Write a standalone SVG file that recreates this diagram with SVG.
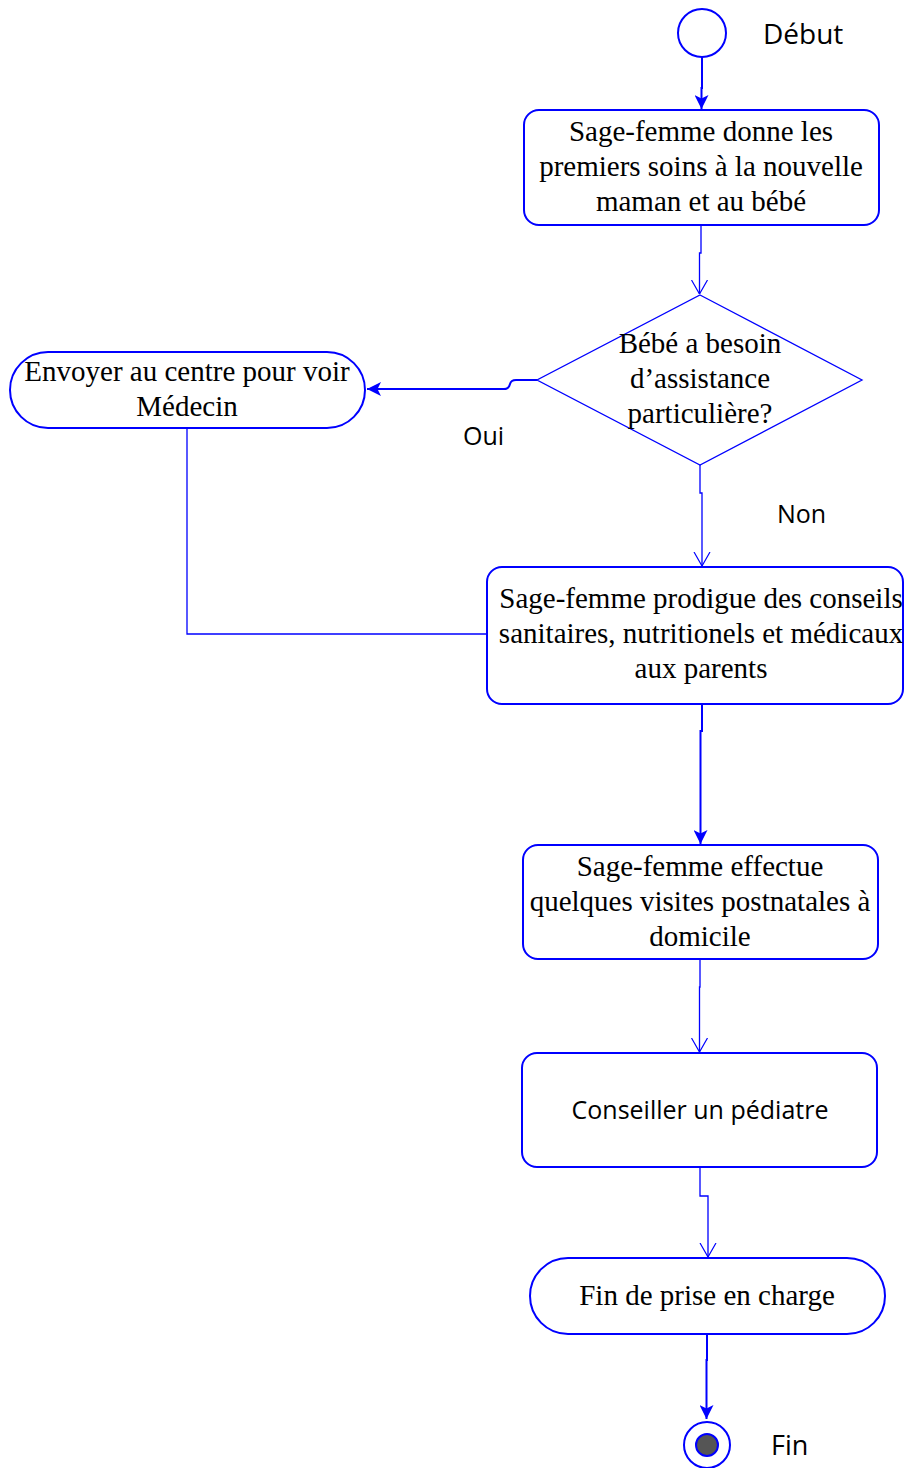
<svg xmlns="http://www.w3.org/2000/svg" width="905" height="1468" viewBox="0 0 905 1468">
<style>
.box{fill:#fff;stroke:#0000ff;stroke-width:2}
.dia{fill:#fff;stroke:#0000ff;stroke-width:1.3}
.t{font-family:"Liberation Serif","Times New Roman",serif;font-size:29px;fill:#000;text-anchor:middle}
.s{font-family:"Open Sans","Liberation Sans",sans-serif;font-size:25px;fill:#000}
.c{fill:none;stroke:#0000ff;stroke-width:1.3}
.cb{fill:none;stroke:#0000ff;stroke-width:2}
</style>
<defs>
<marker id="fill" viewBox="0 0 14 14" refX="14" refY="7" markerWidth="14" markerHeight="14" markerUnits="userSpaceOnUse" orient="auto">
<path d="M0,0 L14,7 L0,14 L3.5,7 Z" fill="#0000ff"/>
</marker>
<marker id="open" viewBox="0 0 14 18" refX="14" refY="9" markerWidth="14" markerHeight="18" markerUnits="userSpaceOnUse" orient="auto">
<path d="M0,1 L14,9 L0,17" fill="none" stroke="#0000ff" stroke-width="1.2"/>
</marker>
</defs>
<rect width="905" height="1468" fill="#fff"/>
<g id="connectors">
<path class="cb" d="M702,57 V88 H701.5 V109" marker-end="url(#fill)"/>
<path class="c" d="M701,225 V253 H699.5 V294" marker-end="url(#open)"/>
<path class="cb" d="M537,380 H516 Q511,380 510,384 Q509,389 504,389 H367" marker-end="url(#fill)"/>
<path class="c" d="M187,428 V634 H487"/>
<path class="c" d="M700,465 V493 H702 V566" marker-end="url(#open)"/>
<path class="cb" d="M702,704 V731 H700.5 V844" marker-end="url(#fill)"/>
<path class="c" d="M700,959 V987 H699.5 V1052" marker-end="url(#open)"/>
<path class="c" d="M700,1167 V1196 H708 V1257" marker-end="url(#open)"/>
<path class="cb" d="M707,1334 V1360 H706.5 V1419" marker-end="url(#fill)"/>
</g>
<g id="start">
<circle cx="702" cy="33" r="24" fill="#fff" stroke="#0000ff" stroke-width="2"/>
<text class="s" x="763" y="44" style="font-size:28px">Début</text>
</g>
<g id="n1">
<rect class="box" x="524" y="110" width="355" height="115" rx="15"/>
<text class="t" x="701" y="141">Sage-femme donne les</text>
<text class="t" x="701" y="176">premiers soins à la nouvelle</text>
<text class="t" x="701" y="211">maman et au bébé</text>
</g>
<g id="decision">
<path class="dia" d="M700,295 L862,380 L700,465 L537,380 Z"/>
<text class="t" x="700" y="353">Bébé a besoin</text>
<text class="t" x="700" y="388">d’assistance</text>
<text class="t" x="700" y="423">particulière?</text>
</g>
<g id="envoyer">
<rect class="box" x="10" y="352" width="355" height="76" rx="38"/>
<text class="t" x="187" y="381">Envoyer au centre pour voir</text>
<text class="t" x="187" y="416">Médecin</text>
</g>
<g id="labels">
<text class="s" x="463" y="445">Oui</text>
<text class="s" x="777" y="523">Non</text>
</g>
<g id="n2">
<rect class="box" x="487" y="567" width="416" height="137" rx="15"/>
<text class="t" x="701" y="608">Sage-femme prodigue des conseils</text>
<text class="t" x="701" y="643">sanitaires, nutritionels et médicaux</text>
<text class="t" x="701" y="678">aux parents</text>
</g>
<g id="n3">
<rect class="box" x="523" y="845" width="355" height="114" rx="15"/>
<text class="t" x="700" y="876">Sage-femme effectue</text>
<text class="t" x="700" y="911">quelques visites postnatales à</text>
<text class="t" x="700" y="946">domicile</text>
</g>
<g id="n4">
<rect class="box" x="522" y="1053" width="355" height="114" rx="15"/>
<text class="s" x="700" y="1119" text-anchor="middle">Conseiller un pédiatre</text>
</g>
<g id="n5">
<rect class="box" x="530" y="1258" width="355" height="76" rx="38"/>
<text class="t" x="707" y="1305">Fin de prise en charge</text>
</g>
<g id="end">
<circle cx="707" cy="1445" r="23" fill="#fff" stroke="#0000ff" stroke-width="2"/>
<circle cx="707" cy="1445" r="11" fill="#555" stroke="#0000ff" stroke-width="2"/>
<text class="s" x="771" y="1455" style="font-size:27px">Fin</text>
</g>
</svg>
